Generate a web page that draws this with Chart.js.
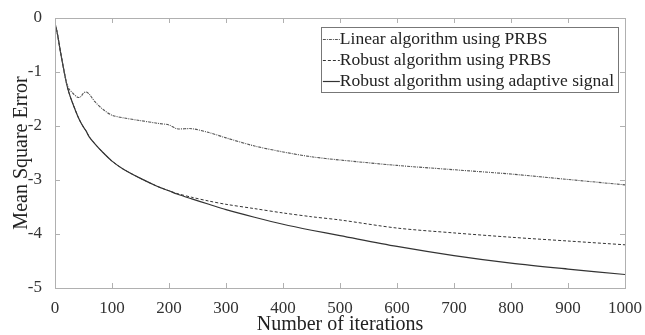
<!DOCTYPE html>
<html>
<head>
<meta charset="utf-8">
<script src="https://cdn.jsdelivr.net/npm/chart.js@4/dist/chart.umd.min.js"></script>
<style>
  html, body { margin: 0; padding: 0; background: #fff; }
  #wrap { width: 645px; height: 335px; }
</style>
</head>
<body>
<div id="wrap"><canvas id="myChart" width="645" height="335"></canvas></div>
<script>
// values
const iterations = [0, 4, 10, 20, 25, 30, 40, 45, 50, 55, 60, 70, 85, 100, 120, 150, 180, 200, 214, 240, 270, 300, 350, 400, 450, 500, 600, 700, 800, 900, 1000]
const linearPrbs = [-0.1, -0.28, -0.65, -1.2, -1.32, -1.38, -1.47, -1.46, -1.39, -1.37, -1.41, -1.55, -1.7, -1.8, -1.85, -1.9, -1.95, -1.98, -2.05, -2.05, -2.12, -2.22, -2.37, -2.48, -2.57, -2.63, -2.73, -2.81, -2.89, -2.99, -3.09]
const robustPrbs = [-0.1, -0.28, -0.65, -1.2, -1.4, -1.55, -1.82, -1.93, -2.02, -2.1, -2.2, -2.33, -2.5, -2.65, -2.8, -2.97, -3.12, -3.2, -3.25, -3.32, -3.39, -3.45, -3.53, -3.61, -3.68, -3.74, -3.89, -3.98, -4.06, -4.13, -4.2]
const robustAdaptive = [-0.1, -0.28, -0.65, -1.2, -1.4, -1.55, -1.82, -1.93, -2.02, -2.1, -2.2, -2.33, -2.5, -2.65, -2.8, -2.97, -3.12, -3.2, -3.26, -3.35, -3.45, -3.55, -3.69, -3.82, -3.93, -4.03, -4.23, -4.4, -4.54, -4.65, -4.75]
const seriesNames = ['Linear algorithm using PRBS', 'Robust algorithm using PRBS', 'Robust algorithm using adaptive signal']
const xTicks = [0, 100, 200, 300, 400, 500, 600, 700, 800, 900, 1000]
const yTicks = [0, -1, -2, -3, -4, -5]

const serif = 'Liberation Serif'
const toPoints = arr => iterations.map((x, i) => ({x: x, y: arr[i]}))

// box around plot with inward ticks (matlab look)
const frame = {
  id: 'frame',
  afterDatasetsDraw(chart){
    const {ctx, chartArea: ca, scales} = chart
    const len = 5
    ctx.save()
    ctx.strokeStyle = '#b0b0b0'
    ctx.lineWidth = 1
    ctx.beginPath()
    xTicks.forEach(v => {
      const px = Math.round(scales.x.getPixelForValue(v)) + 0.5
      ctx.moveTo(px, ca.bottom); ctx.lineTo(px, ca.bottom - len)
      ctx.moveTo(px, ca.top); ctx.lineTo(px, ca.top + len)
    })
    yTicks.forEach(v => {
      const py = Math.round(scales.y.getPixelForValue(v)) + 0.5
      ctx.moveTo(ca.left, py); ctx.lineTo(ca.left + len, py)
      ctx.moveTo(ca.right, py); ctx.lineTo(ca.right - len, py)
    })
    ctx.stroke()
    ctx.strokeRect(Math.round(ca.left) + 0.5, Math.round(ca.top) + 0.5, Math.round(ca.right - ca.left), Math.round(ca.bottom - ca.top))
    ctx.restore()
  }
}

// legend box inside the plot, top right
const boxLegend = {
  id: 'boxLegend',
  afterDraw(chart){
    const {ctx, chartArea: ca} = chart
    const sets = chart.data.datasets
    ctx.save()
    ctx.font = '17.5px "' + serif + '"'
    let maxW = 0
    sets.forEach(ds => { maxW = Math.max(maxW, ctx.measureText(ds.label).width) })
    const sample = 17, rowH = 21
    const w = sample + 3 + maxW + 3
    const h = rowH * sets.length + 2
    const right = ca.right - 7
    const left = right - w
    const top = ca.top + 9
    ctx.fillStyle = '#fff'
    ctx.fillRect(left, top, w, h)
    ctx.strokeStyle = '#777'
    ctx.lineWidth = 1
    ctx.strokeRect(Math.round(left) + 0.5, Math.round(top) + 0.5, Math.round(w), Math.round(h))
    sets.forEach((ds, i) => {
      const cy = top + 1 + rowH * i + rowH / 2
      ctx.strokeStyle = ds.borderColor
      ctx.lineWidth = ds.borderWidth
      ctx.setLineDash(ds.borderDash || [])
      ctx.beginPath()
      ctx.moveTo(left + 2, Math.round(cy) + 0.5)
      ctx.lineTo(left + 2 + sample, Math.round(cy) + 0.5)
      ctx.stroke()
      ctx.setLineDash([])
      ctx.fillStyle = '#222'
      ctx.textBaseline = 'middle'
      ctx.fillText(ds.label, left + sample + 2, cy + 1)
    })
    ctx.restore()
  }
}

new Chart(document.getElementById('myChart').getContext('2d'), {
  type: 'line',
  data: {
    datasets: [
      { label: seriesNames[0], data: toPoints(linearPrbs), borderColor: '#555', borderWidth: 1.1, borderDash: [3, 1, 1, 1], pointRadius: 0, tension: 0.3 },
      { label: seriesNames[1], data: toPoints(robustPrbs), borderColor: '#333', borderWidth: 1, borderDash: [3, 2], pointRadius: 0, tension: 0.3 },
      { label: seriesNames[2], data: toPoints(robustAdaptive), borderColor: '#333', borderWidth: 1.2, pointRadius: 0, tension: 0.3 }
    ]
  },
  options: {
    responsive: false,
    animation: false,
    layout: { padding: { top: 18, right: 20, left: 0, bottom: 0 } },
    plugins: { legend: { display: false }, tooltip: { enabled: false } },
    scales: {
      x: {
        type: 'linear', min: 0, max: 1000,
        afterBuildTicks: s => { s.ticks = xTicks.map(v => ({value: v})) },
        afterFit: s => { s.height = 47 },
        grid: { display: false },
        border: { display: false },
        ticks: { color: '#333', font: { family: serif, size: 17 }, padding: 2, maxRotation: 0, callback: v => String(v) },
        title: { display: true, text: 'Number of iterations', color: '#222', font: { family: serif, size: 20 }, padding: { top: 0, bottom: -2 } }
      },
      y: {
        min: -5, max: 0,
        afterBuildTicks: s => { s.ticks = yTicks.map(v => ({value: v})) },
        afterFit: s => { s.width = 55 },
        grid: { display: false },
        border: { display: false },
        ticks: { color: '#333', font: { family: serif, size: 17 }, padding: 5, callback: v => String(v) },
        title: { display: true, text: 'Mean Square Error', color: '#222', font: { family: serif, size: 20 }, padding: { top: 10, bottom: 0 } }
      }
    }
  },
  plugins: [frame, boxLegend]
})
</script>
</body>
</html>
